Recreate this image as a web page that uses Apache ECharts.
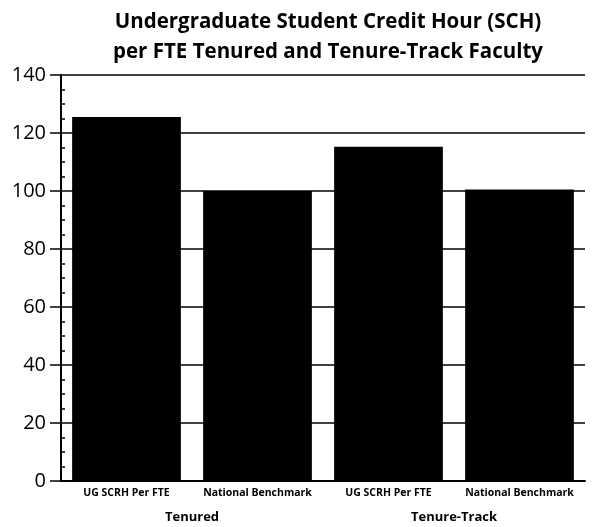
<!DOCTYPE html>
<html>
<head>
<meta charset="utf-8">
<script src="https://cdn.jsdelivr.net/npm/echarts@6/dist/echarts.min.js"></script>
<style>
  html, body { margin: 0; padding: 0; background: #fff; }
  #main { width: 593px; height: 527px; }
</style>
</head>
<body>
<div id="main"></div>
<script>
var categories = ['UG SCRH Per FTE', 'National Benchmark', 'UG SCRH Per FTE', 'National Benchmark'];
var groups = ['Tenured', 'Tenure-Track'];
var values = [125.5, 100, 115.3, 100.5];
var yTicks = [0, 20, 40, 60, 80, 100, 120, 140];

var chartDom = document.getElementById('main');
var myChart = echarts.init(chartDom);
var font = '"Open Sans", "DejaVu Sans", sans-serif';
var gridLeft = 61, gridRight = 8;
var plotWidth = 593 - gridLeft - gridRight;

var option = {
    animation: false,
    title: {
        text: 'Undergraduate Student Credit Hour (SCH)\nper FTE Tenured and Tenure-Track Faculty',
        left: 323,
        textAlign: 'center',
        top: 2,
        textStyle: {
            fontFamily: font,
            fontWeight: 'bold',
            fontSize: 20.5,
            lineHeight: 30,
            color: '#000'
        }
    },
    grid: { left: gridLeft, right: gridRight, top: 75, bottom: 46 },
    xAxis: [{
        type: 'category',
        data: categories,
        axisLine: { lineStyle: { color: '#000', width: 2 } },
        axisTick: { show: false },
        axisLabel: {
            interval: 0,
            margin: 7,
            fontFamily: font,
            fontSize: 10.5,
            fontWeight: 'bold',
            color: '#000'
        }
    }, {
        type: 'category',
        data: groups,
        position: 'bottom',
        offset: 22,
        axisLine: { show: false },
        axisTick: { show: false },
        axisLabel: {
            fontFamily: font,
            fontSize: 13,
            fontWeight: 'bold',
            color: '#000'
        }
    }],
    yAxis: [{
        type: 'value',
        min: yTicks[0],
        max: yTicks[yTicks.length - 1],
        interval: 20,
        axisLine: { show: true, lineStyle: { color: '#000', width: 2 } },
        axisTick: { show: true, length: 11, lineStyle: { color: '#000', width: 1.5 } },
        axisLabel: {
            margin: 15,
            fontFamily: font,
            fontSize: 20,
            color: '#000'
        },
        splitLine: { show: true, lineStyle: { color: '#000', width: 1.5 } }
    }, {
        // overlay on the left edge so the minor ticks point into the plot
        type: 'value',
        position: 'right',
        offset: -plotWidth,
        min: yTicks[0],
        max: yTicks[yTicks.length - 1],
        interval: 20,
        axisLine: { show: false },
        axisTick: { show: false },
        axisLabel: { show: false },
        splitLine: { show: false },
        minorTick: { show: true, splitNumber: 4, length: 4, lineStyle: { color: '#000', width: 1.5 } }
    }],
    series: [{
        type: 'bar',
        data: values,
        barCategoryGap: '17%',
        itemStyle: { color: '#000' }
    }]
};

myChart.setOption(option);
</script>
</body>
</html>
